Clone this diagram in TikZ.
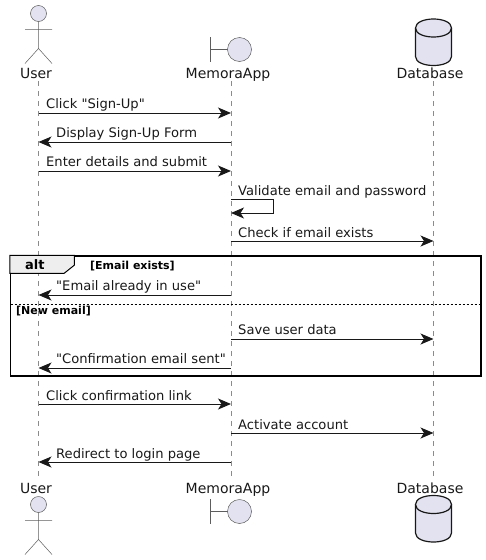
\documentclass[tikz,border=0pt]{standalone}
\usepackage{fontspec}
\newfontfamily\diagfont{DejaVu Sans}
\usepackage{xcolor}
\usetikzlibrary{arrows.meta}
\definecolor{partfill}{HTML}{E2E2F0}
\definecolor{inkdark}{HTML}{181818}
\definecolor{tabfill}{HTML}{EEEEEE}

\begin{document}
\begin{tikzpicture}[
  x=1pt, y=-1pt,
  every node/.style={inner sep=0pt, text=inkdark},
  part/.style={anchor=base, font=\diagfont\fontsize{14}{16}\selectfont},
  msglabel/.style={anchor=base west, font=\diagfont\fontsize{13.1}{15}\selectfont},
  guard/.style={anchor=base west, font=\diagfont\fontsize{11}{12}\selectfont\bfseries, text=black},
  lifeline/.style={draw=inkdark!50, line width=0.5pt, dash pattern=on 5pt off 5pt},
  msg/.style={-{Stealth[length=13pt, width=11pt, inset=3.5pt]}, draw=inkdark, line width=1pt},
  figline/.style={draw=inkdark!70, line width=0.5pt},
  altframe/.style={draw=black, line width=1.5pt, minimum width=470.5pt, minimum height=120pt},
  actorfig/.pic={
    \draw[figline, fill=partfill] (0,0) circle (8);
    \draw[figline] (0,8) -- (0,35) (-13.5,16) -- (13.5,16) (-13.5,50) -- (0,35) -- (13.5,50);
  },
  boundfig/.pic={
    \draw[figline] (-20.5,-12.5) -- (-20.5,12.5) (-20.5,0) -- (-3.5,0);
    \draw[figline, fill=partfill] (8.5,0) circle (12);
  },
  dbfig/.pic={
    \draw[draw=inkdark, line width=1.2pt, fill=partfill] (-18,9) .. controls (-18,-3) and (18,-3) .. (18,9)
      -- (18,37.5) .. controls (18,49.5) and (-18,49.5) .. (-18,37.5) -- cycle;
    \draw[draw=inkdark, line width=1.2pt] (-18,9) .. controls (-18,21) and (18,21) .. (18,9);
  }
]
\useasboundingbox (0,0) rectangle (485,560);

% heads and feet
\node[part] (userTop) at (36,78) {User};
\node[part] (appTop) at (228,78) {MemoraApp};
\node[part] (dbTop) at (430,78) {Database};
\node[part] (userBot) at (36,493) {User};
\node[part] (appBot) at (228,493) {MemoraApp};
\node[part] (dbBot) at (430,493) {Database};

\pic at (38.5,13.5) {actorfig};
\pic at (231,49.5) {boundfig};
\pic at (433.5,19) {dbfig};
\pic at (38.5,504.5) {actorfig};
\pic at (231,511.5) {boundfig};
\pic at (433.5,495.5) {dbfig};

% lifeline stops, one row per message
\foreach \n/\y in {a/81, 1/113, 2/142, 3/171, 4/199, 5/213, 6/241, 7/295, 8/339, 9/368, 10/404, 11/433, 12/462, z/476} {
  \coordinate (u\n) at (38.5,\y);
  \coordinate (m\n) at (231,\y);
  \coordinate (d\n) at (433.5,\y);
}
\draw[lifeline] (ua) -- (uz);
\draw[lifeline] (ma) -- (mz);
\draw[lifeline] (da) -- (dz);

% alt frame
\node[altframe] (altbox) at (245.75,316) {};
\draw[line width=1pt, draw=black, fill=tabfill] (altbox.north west) -- ++(64.5,0) -- ++(0,10) -- ++(-10,8) -- ++(-54.5,0) -- cycle;
\node[anchor=base west, font=\diagfont\fontsize{13}{15}\selectfont\bfseries, text=black] (altlabel) at (25,269) {alt};
\node[guard] (guardA) at (90,269) {[Email exists]};
\coordinate (splitL) at (10.5,304);
\coordinate (splitR) at (481,304);
\draw[black, line width=0.8pt, dash pattern=on 2pt off 2pt] (splitL) -- (splitR);
\node[guard] (guardB) at (16,314) {[New email]};

% messages
\draw[msg] (u1) -- (m1);
\node[msglabel] (lab1) at (46,108) {Click "Sign-Up"};
\draw[msg] (m2) -- (u2);
\node[msglabel] (lab2) at (56,137) {Display Sign-Up Form};
\draw[msg] (u3) -- (m3);
\node[msglabel] (lab3) at (46,166) {Enter details and submit};
\draw[msg] (m4) -- ++(42,0) -- ++(0,14) -- (m5);
\node[msglabel] (lab4) at (238,195) {Validate email and password};
\draw[msg] (m6) -- (d6);
\node[msglabel] (lab6) at (238,237) {Check if email exists};
\draw[msg] (m7) -- (u7);
\node[msglabel] (lab7) at (56,290) {"Email already in use"};
\draw[msg] (m8) -- (d8);
\node[msglabel] (lab8) at (238,334) {Save user data};
\draw[msg] (m9) -- (u9);
\node[msglabel] (lab9) at (56,363) {"Confirmation email sent"};
\draw[msg] (u10) -- (m10);
\node[msglabel] (lab10) at (46,400) {Click confirmation link};
\draw[msg] (m11) -- (d11);
\node[msglabel] (lab11) at (238,429) {Activate account};
\draw[msg] (m12) -- (u12);
\node[msglabel] (lab12) at (56,458) {Redirect to login page};
\end{tikzpicture}
\end{document}
